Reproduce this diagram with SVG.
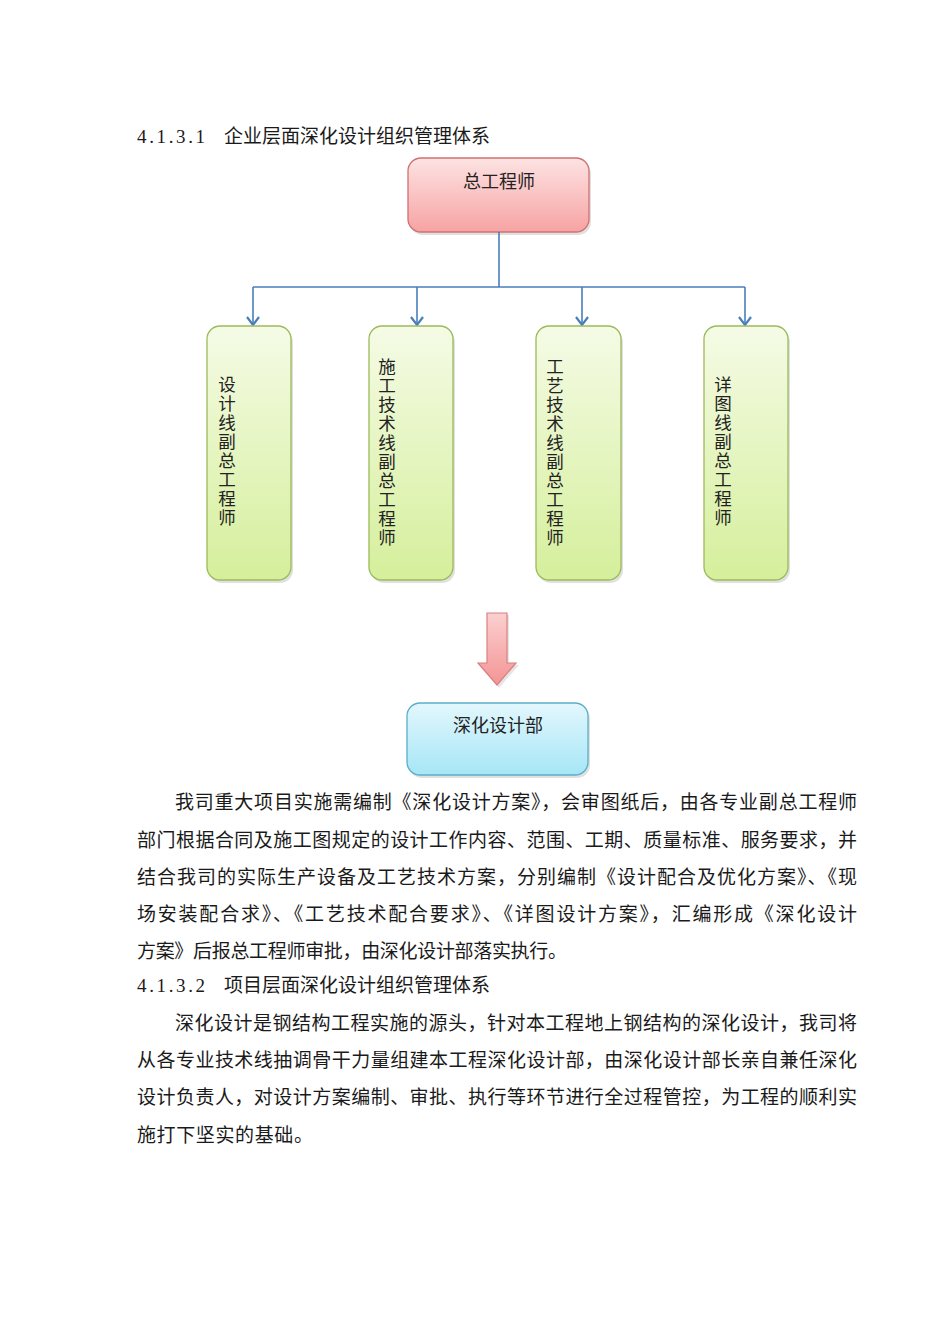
<svg xmlns="http://www.w3.org/2000/svg" width="950" height="1344" viewBox="0 0 950 1344">
<style>
.t{font-family:"Liberation Serif","Noto Sans CJK SC",serif;font-size:19px;fill:#1a1a1a}
.n{font-family:"Noto Sans CJK SC",sans-serif;font-size:18px;fill:#222;text-anchor:middle}
.vt{font-family:"Noto Sans CJK SC",sans-serif;font-size:17.5px;fill:#222;text-anchor:middle}
.conn{fill:none;stroke:#4a7ebb;stroke-width:1.6}
.g{stroke:#9bbb59;stroke-width:1.3;fill:url(#gg)}
.sh{fill:#000;opacity:0.12}
</style>
<defs>
<linearGradient id="pg" x1="0" y1="0" x2="0" y2="1"><stop offset="0" stop-color="#fde3e3"/><stop offset="1" stop-color="#f7a3a3"/></linearGradient>
<linearGradient id="gg" x1="0" y1="0" x2="0" y2="1"><stop offset="0" stop-color="#f5fbe6"/><stop offset="1" stop-color="#d5ef9b"/></linearGradient>
<linearGradient id="bg" x1="0" y1="0" x2="0" y2="1"><stop offset="0" stop-color="#e3f7fd"/><stop offset="1" stop-color="#a6e6f6"/></linearGradient>
<linearGradient id="ag" x1="0" y1="0" x2="0" y2="1"><stop offset="0" stop-color="#fbd0d0"/><stop offset="1" stop-color="#f49494"/></linearGradient>
<marker id="v" markerWidth="12" markerHeight="14" refX="10" refY="7" orient="auto" markerUnits="userSpaceOnUse" viewBox="0 0 12 14">
<path d="M2,1 L10,7 L2,13" fill="none" stroke="#4a7ebb" stroke-width="2.2"/>
</marker>
</defs>
<rect width="950" height="1344" fill="#fff"/>

<text class="t" x="137" y="143" textLength="68" lengthAdjust="spacing">4.1.3.1</text>
<text class="t" x="224" y="143" textLength="266" lengthAdjust="spacing">企业层面深化设计组织管理体系</text>

<g id="chief">
<rect class="sh" x="410" y="161" width="181" height="74" rx="13"/>
<rect x="408" y="158" width="181" height="74" rx="13" fill="url(#pg)" stroke="#d07070" stroke-width="1.3"/>
<text class="n" x="499" y="188">总工程师</text>
</g>

<g id="connectors">
<path class="conn" d="M499,232 V287 M253,287 H745"/>
<path class="conn" d="M253,287 V325" marker-end="url(#v)"/>
<path class="conn" d="M417,287 V325" marker-end="url(#v)"/>
<path class="conn" d="M582,287 V325" marker-end="url(#v)"/>
<path class="conn" d="M745,287 V325" marker-end="url(#v)"/>
</g>

<g id="vp-design">
<rect class="sh" x="209" y="329" width="84" height="254" rx="13"/>
<rect class="g" x="207" y="326" width="84" height="254" rx="13"/>
<text class="vt"><tspan x="227" y="391">设</tspan><tspan x="227" y="410">计</tspan><tspan x="227" y="429">线</tspan><tspan x="227" y="448">副</tspan><tspan x="227" y="467">总</tspan><tspan x="227" y="486">工</tspan><tspan x="227" y="505">程</tspan><tspan x="227" y="524">师</tspan></text>
</g>

<g id="vp-construction">
<rect class="sh" x="371" y="329" width="84" height="254" rx="13"/>
<rect class="g" x="369" y="326" width="84" height="254" rx="13"/>
<text class="vt"><tspan x="387" y="373">施</tspan><tspan x="387" y="392">工</tspan><tspan x="387" y="411">技</tspan><tspan x="387" y="430">术</tspan><tspan x="387" y="449">线</tspan><tspan x="387" y="468">副</tspan><tspan x="387" y="487">总</tspan><tspan x="387" y="506">工</tspan><tspan x="387" y="525">程</tspan><tspan x="387" y="544">师</tspan></text>
</g>

<g id="vp-process">
<rect class="sh" x="538" y="329" width="85" height="254" rx="13"/>
<rect class="g" x="536" y="326" width="85" height="254" rx="13"/>
<text class="vt"><tspan x="555" y="373">工</tspan><tspan x="555" y="392">艺</tspan><tspan x="555" y="411">技</tspan><tspan x="555" y="430">术</tspan><tspan x="555" y="449">线</tspan><tspan x="555" y="468">副</tspan><tspan x="555" y="487">总</tspan><tspan x="555" y="506">工</tspan><tspan x="555" y="525">程</tspan><tspan x="555" y="544">师</tspan></text>
</g>

<g id="vp-detail">
<rect class="sh" x="706" y="329" width="84" height="254" rx="13"/>
<rect class="g" x="704" y="326" width="84" height="254" rx="13"/>
<text class="vt"><tspan x="723" y="391">详</tspan><tspan x="723" y="410">图</tspan><tspan x="723" y="429">线</tspan><tspan x="723" y="448">副</tspan><tspan x="723" y="467">总</tspan><tspan x="723" y="486">工</tspan><tspan x="723" y="505">程</tspan><tspan x="723" y="524">师</tspan></text>
</g>

<g id="big-arrow">
<path d="M489,615 H509 V665 H519 L499,688 L479,665 H489 Z" fill="#000" opacity="0.1"/>
<path d="M487,613 H507 V663 H516 L497,685 L478,663 H487 Z" fill="url(#ag)" stroke="#d98080" stroke-width="1.2"/>
</g>

<g id="dept">
<rect class="sh" x="409" y="706" width="181" height="72" rx="13"/>
<rect x="407" y="703" width="181" height="72" rx="13" fill="url(#bg)" stroke="#5aaec8" stroke-width="1.3"/>
<text class="n" x="498" y="732">深化设计部</text>
</g>

<g id="body">
<text class="t" x="175" y="809" textLength="682" lengthAdjust="spacing">我司重大项目实施需编制《深化设计方案》，会审图纸后，由各专业副总工程师</text>
<text class="t" x="137" y="847" textLength="720" lengthAdjust="spacing">部门根据合同及施工图规定的设计工作内容、范围、工期、质量标准、服务要求，并</text>
<text class="t" x="137" y="884" textLength="720" lengthAdjust="spacing">结合我司的实际生产设备及工艺技术方案，分别编制《设计配合及优化方案》、《现</text>
<text class="t" x="137" y="921" textLength="720" lengthAdjust="spacing">场安装配合求》、《工艺技术配合要求》、《详图设计方案》，汇编形成《深化设计</text>
<text class="t" x="137" y="958" textLength="430" lengthAdjust="spacing">方案》后报总工程师审批，由深化设计部落实执行。</text>
<text class="t" x="137" y="992" textLength="68" lengthAdjust="spacing">4.1.3.2</text>
<text class="t" x="224" y="992" textLength="266" lengthAdjust="spacing">项目层面深化设计组织管理体系</text>
<text class="t" x="175" y="1030" textLength="682" lengthAdjust="spacing">深化设计是钢结构工程实施的源头，针对本工程地上钢结构的深化设计，我司将</text>
<text class="t" x="137" y="1067" textLength="720" lengthAdjust="spacing">从各专业技术线抽调骨干力量组建本工程深化设计部，由深化设计部长亲自兼任深化</text>
<text class="t" x="137" y="1104" textLength="720" lengthAdjust="spacing">设计负责人，对设计方案编制、审批、执行等环节进行全过程管控，为工程的顺利实</text>
<text class="t" x="137" y="1142" textLength="176" lengthAdjust="spacing">施打下坚实的基础。</text>
</g>
</svg>
